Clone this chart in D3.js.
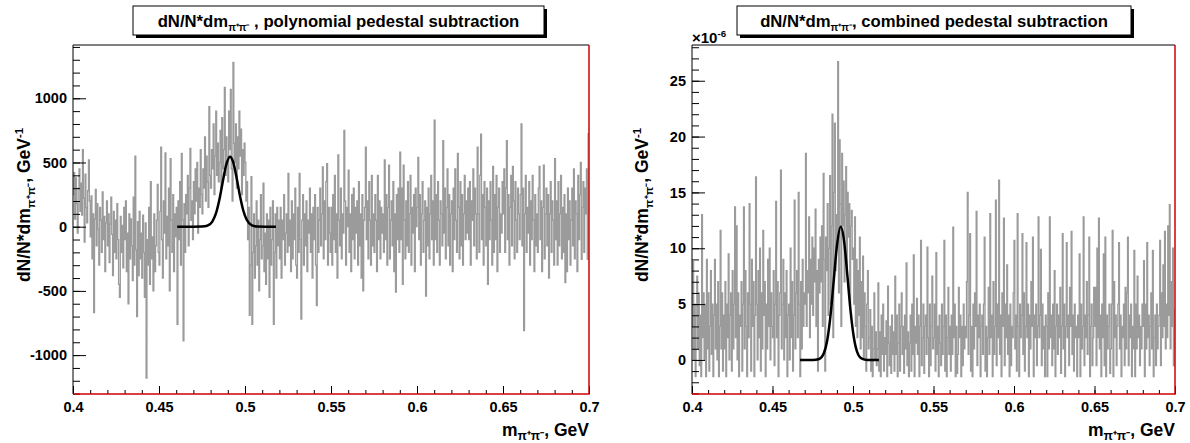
<!DOCTYPE html>
<html>
<head>
<meta charset="utf-8">
<script src="https://cdn.jsdelivr.net/npm/d3@7"></script>
<style>
  body { margin: 0; background: #fff; }
  text { font-family: "Liberation Sans", Arial, sans-serif; font-weight: bold; fill: #000; }
</style>
</head>
<body>
<svg id="chart"></svg>
<script>
// histogram binning (GeV), 600 bins from 0.4 to 0.7
const binStart = 0.4;
const binWidth = 0.0005;

// polynomial pedestal subtraction, GeV^-1 (rows of 0.005 GeV)
const polyValues = [
  250, 420, 60, 380, 180, -50, 300, 450, 120, 340,
  90, 600, 220, -120, 410, 150, 30, 280, 520, 200,
  -80, 240, -250, 100, -670, 60, 290, -150, 180, -20,
  -300, 150, 50, -200, 270, -100, 80, -350, 30, 200,
  -150, 100, -280, 20, 230, -60, -380, 120, -200, 50,
  -250, 180, -100, -450, -550, 80, -200, 10, -320, 150,
  -100, 200, -350, -50, -600, 100, -250, 60, -150, -420,
  230, -300, 550, -180, -700, 40, -380, 120, -250, -50,
  -400, 90, -200, -550, 30, -1180, -100, -300, 150, -450,
  350, -250, -80, -500, 100, -350, -150, 50, 330, -200,
  -300, 120, 620, -100, -400, 200, -50, 575, -250, 80,
  -150, 300, -500, 530, 50, -200, 250, -350, 100, -80,
  150, -760, 200, -100, 350, -300, 570, 50, -890, 180,
  -200, 250, 100, 400, -150, 300, 610, 50, 200, -100,
  350, 100, 450, 200, 500, -50, 300, 150, 600, 250,
  100, 450, 300, 700, 200, 550, 350, 150, 935, 400,
  300, 600, 450, 800, 250, 550, 900, 400, 650, 350,
  500, 750, 300, 850, 450, 600, 1085, 400, 700, 550,
  350, 900, 600, 1070, 450, 200, 1280, 650, 500, 800,
  300, 700, 450, 900, 550, 760, 250, 600, 400, 650,
  500, 200, 350, -100, 150, -690, -300, 390, -760, -200,
  100, -400, -150, 200, -300, 50, -500, -100, 250, -250,
  -150, 340, -350, -50, -450, 100, -250, 50, -550, 150,
  -300, -100, 200, -760, -200, 100, -400, 150, -150, 50,
  -250, 150, -400, 50, -100, 250, -300, -50, 100, -200,
  415, -150, 50, -350, 200, -250, 100, -100, 300, -300,
  -400, 150, -200, 415, -100, -720, 50, 250, -300, 100,
  -150, 200, -350, 50, -50, 300, -200, 100, -400, 150,
  -100, 250, -300, -615, 150, -200, 50, 300, -150, 100,
  465, -250, 200, -100, 350, 490, -300, 150, -50, -200,
  150, -300, 250, -100, 400, -200, 100, -400, 560, 50,
  -150, 300, -250, 100, -50, 750, 200, -300, 150, 0,
  440, -200, 100, -350, 250, -100, 300, -250, 150, -50,
  200, -300, 350, -150, 100, -400, 250, -500, 50, 150,
  620, -100, 200, -250, 350, 50, -300, 400, -150, 100,
  -200, 250, 50, -350, 400, -100, 200, -250, 150, -50,
  100, -200, 520, -100, 250, -300, 150, 480, -250, 50,
  200, -150, 350, -350, 100, -510, 250, -100, 300, -200,
  580, -100, 300, -450, 480, 50, -250, 200, -150, 350,
  -200, 100, 400, -300, 150, -50, 250, -350, 300, 0,
  150, 540, -100, 250, -300, 100, 350, -200, 50, 200,
  -540, 150, -150, 300, -250, 100, 400, -100, 200, -300,
  830, -100, 250, -200, 350, 50, -300, 200, 100, -150,
  670, -50, 300, -250, 150, 450, -150, 250, -300, 100,
  200, -350, 300, -100, 450, 50, -200, 570, 150, -250,
  350, -150, 250, -300, 100, 400, -100, 200, -50, 300,
  -100, 350, -300, 200, 50, 450, -150, 300, 100, -250,
  620, 100, -200, 400, 720, -100, 250, -300, 350, 150,
  -150, 300, -450, 200, -100, 350, 50, -300, 470, -200,
  250, -100, 400, -350, 150, 300, -200, 100, -50, 350,
  100, 450, -200, 300, 670, -100, 250, -300, 150, 400,
  -150, 470, 200, -250, 350, 50, -200, 300, 100, -100,
  250, 800, -150, 300, -810, 100, 400, -200, 150, -50,
  350, -300, 200, -100, 400, 50, -350, 250, -150, 100,
  -200, 300, 470, -100, 200, -350, 150, 480, -250, 100,
  300, -150, 250, -400, 100, 350, -200, 200, 50, -300,
  530, -100, 200, -300, 350, -150, 100, 400, -250, 150,
  -200, 250, -435, 100, -350, 300, -100, 200, -300, 50,
  300, -150, 450, -250, 200, 100, -350, 400, -100, 250,
  500, -255, 150, 350, -200, 300, 100, 450, -255, 725
];

// combined pedestal subtraction, units of 1e-6 GeV^-1 (rows of 0.005 GeV)
const combValues = [
  3, 8.8, 0, 5, -1.5, 4, 7.5, 1, 6, -0.5,
  4, -1.5, 13, 2, 6, 0, 5, -1.5, 9, 1,
  6, -1, 3, 8, 0.5, 5, -1.5, 4, 9, 1,
  5, 0, 7, -1.5, 3, 11.6, 1, 6, -1, 4,
  1, 7, -1.5, 5, 2, 9.5, 0, 4, 6, -1,
  8, 1, 5, 13.7, 2, 12, 0, 6, -1.5, 4,
  3, 7, -1, 5, 13.7, 1, 8, 3, -1.5, 6,
  2, 14, 5, -1, 9, 3, 7, -1.5, 4, 16.4,
  5, 0, 8, 2, 10, -1, 6, 1, 11.6, 4,
  7, -1.5, 5, 1, 9, 3, 10, 0, 6, 3,
  2, 8, -0.5, 5, 14.2, 2, 7, -1.5, 4, 6,
  17, 1, 5, 9, 0, 6, 2, 8, -1.5, 4,
  5, 0, 10, 2, 7, -1, 4, 14.3, 1, 6,
  8, 2, 15, 5, -1.5, 7, 1, 9, 3, 6,
  5, 18.5, 3, 8, 6, 12.8, 2, 9, 5, 11,
  4, 10, 7, 13.5, 3, 8, -1, 9, 6, 11,
  7, 12, 3, 16.7, 9, -1, 11, 8, 14, 4,
  10, 16.5, 5, 12, 22, 2, 15, 21.2, 8, 13,
  11, 26.7, 6, 19.7, 14, 3, 18.5, 12, 16, 7,
  13, 17.3, 8, 15, 11, 14, 5, 12, 13.4, 9,
  10, 5, 12.8, 3, 9, 2, 8, 4, 11, 1,
  7, 2, 9.3, 0, 6, 3, -1, 5, 8, 1,
  2, 4.5, -1, 3, -1.5, 1, 6, 0, 2.5, -0.5,
  1, 6.9, -1, 2.5, -1.5, 4, 0.5, 5, -1, 2,
  0.5, 3.5, -1.5, 6.6, 1.5, -0.5, 3, -1.2, 4, 0.5,
  2.5, -1, 7.5, 0.5, 4, -1.5, 1.5, 5, -1, 3,
  6, 0.5, 3, -1.2, 4, 1, 8.7, -0.5, 2.5, -1.5,
  1.5, 4, -1, 5, 0.5, 9.4, -1.5, 3, 1.5, 5.5,
  0.5, 4, -1.5, 3, 10.7, -0.5, 2, 5, -1.2, 3,
  4, 0.5, 10.1, 2, -1.5, 5, -0.5, 3, 7.5, 1,
  2, 5, -1, 9.6, 0.5, 3, -1.5, 4, 1.5, -0.5,
  5, 0.5, 3, 10.7, -1, 4, -1.5, 2, 6.5, 0.5,
  3, -1, 4, 0.5, 11.9, 2, 5, -1.5, 3, -1.2,
  0.5, 6.5, 2, 4, -1.5, 3, -0.5, 5, 1, 3,
  2, 7, 15, 0.5, 4, 11.3, -1, 3, -1.5, 5,
  1, 6, 3, 13.3, -0.5, 4, 2, 5, -1.5, 3,
  4, 0.5, 5, 11, -1, 3, -1.5, 2, 6.5, 0.5,
  13.1, 2, 4, -1.5, 7, 0.5, 3, 14.3, -0.5, 5,
  2, 16.1, 0.5, 4, -1.5, 6, 3, 12.7, -0.5, 5,
  2, 8.5, 0.5, 4, -1.5, 5, -0.5, 3, 2, 6,
  10.7, 1, 4, -1, 13.1, 3, -1.5, 5, 2, 4,
  11.3, 0.5, 6, -1, 3, 10.5, 2, 5, -1.5, 4,
  1, 7, 3, 11, -1.5, 4, 2, 5, -0.5, 3,
  12.8, 2, 4, 9.9, -0.5, 5, 1, 3, -1.5, 4,
  3, -1.5, 6, 1, 12.8, 2, 4, -0.5, 5, 1,
  8, -1.5, 3, 5, 0.5, 4, 2, 6.5, -1.2, 3,
  11.3, 1, 5, -1.5, 3, 10.5, 2, 4, -0.5, 6.5,
  3, 11.5, 0.5, 4, -1, 5, 2, 3, -1.5, 4,
  2, 9.5, -1.5, 5, 1, 3, 12.8, -0.5, 4, 2,
  7, 0.5, 4, 11, -1.5, 3, 5, -0.5, 2, 6.5,
  3, 6.5, -0.5, 10, 2, 12.7, 1, 4, -1.5, 5,
  2, 9.5, -0.5, 11, -1.5, 4, 1, 3, 5, -1.2,
  1, 5, 11.6, -1.5, 7, 2, 4, -0.5, 3, 5,
  10.5, 1, 4, -1.5, 3, 2, 5, -0.5, 6.5, 1,
  6, 11, -0.5, 4, 2, 5, -1.5, 3, 1, 9.8,
  -1.5, 5, 1, 7.5, 2, 4, -0.5, 3, 1, 5,
  3, 8.9, -1.5, 5, 1, 10.5, 2, 4, -0.5, 3,
  6, 1, 9.8, -1.5, 2, 4, -0.5, 5, 1, 3,
  4, 10.7, -0.5, 6, 2, 8.5, 3, 11.5, 1, 5,
  2, 12, 4, 13.9, 1, 7, 3, 10, -0.5, 4.5
];

// fitted peak curves
const polyFitX = [0.4606, 0.470, 0.475, 0.478, 0.481, 0.483, 0.485, 0.487, 0.489, 0.4913,
                  0.493, 0.495, 0.497, 0.499, 0.501, 0.504, 0.507, 0.512, 0.518];
const polyFitY = [0, 0, 1, 7, 40, 99, 204, 345, 478, 545,
                  508, 389, 245, 126, 54, 10, 1, 0, 0];
const combFitX = [0.4671, 0.475, 0.479, 0.482, 0.484, 0.486, 0.488, 0.490, 0.4924,
                  0.4945, 0.4965, 0.4985, 0.5005, 0.5025, 0.5055, 0.509, 0.5161];
const combFitY = [0, 0, 0.09, 0.64, 1.76, 3.94, 7.06, 10.2, 11.92,
                  10.6, 7.57, 4.36, 2.03, 0.75, 0.12, 0, 0];

// axes
const xMajor = [0.4, 0.45, 0.5, 0.55, 0.6, 0.65, 0.7];
const xMinor = d3.range(0, 31).map(i => 0.4 + i * 0.01);
const polyYMajor = [-1000, -500, 0, 500, 1000];
const polyYMinor = d3.range(-13, 15).map(i => i * 100);
const combYMajor = [0, 5, 10, 15, 20, 25];
const combYMinor = d3.range(-3, 29);

const svg = d3.select("#chart").attr("width", 1190).attr("height", 443);
svg.append("rect").attr("width", 1190).attr("height", 443).attr("fill", "#fff");

function drawPanel(p) {
  const x = d3.scaleLinear().domain([0.4, 0.7]).range([p.left, p.right]);
  const y = d3.scaleLinear().domain(p.yDomain).range([394, 45]);
  const g = svg.append("g");

  const clipId = "clip" + p.id;
  svg.append("clipPath").attr("id", clipId)
    .append("rect").attr("x", p.left).attr("y", 45)
    .attr("width", p.right - p.left).attr("height", 349);

  // histogram as steps
  const pts = p.values.map((v, i) => [binStart + i * binWidth, v]);
  pts.push([binStart + p.values.length * binWidth, p.values[p.values.length - 1]]);
  g.append("path")
    .attr("clip-path", `url(#${clipId})`)
    .attr("d", d3.line().x(d => x(d[0])).y(d => y(d[1])).curve(d3.curveStepAfter)(pts))
    .attr("fill", "none")
    .attr("stroke", "#9b9b9b")
    .attr("stroke-width", 1.3);

  // fit
  g.append("path")
    .attr("d", d3.line().x((d, i) => x(p.fitX[i])).y(d => y(d)).curve(d3.curveMonotoneX)(p.fitY))
    .attr("fill", "none")
    .attr("stroke", "#000")
    .attr("stroke-width", 2.5);

  // minor ticks
  g.append("g").attr("transform", "translate(0,394)")
    .call(d3.axisBottom(x).tickValues(p.xMinor).tickSize(-4).tickFormat(""))
    .call(a => a.select(".domain").remove());
  g.append("g").attr("transform", `translate(${p.left},0)`)
    .call(d3.axisLeft(y).tickValues(p.yMinor).tickSize(-7).tickFormat(""))
    .call(a => a.select(".domain").remove());

  // major ticks with labels
  g.append("g").attr("transform", "translate(0,394)")
    .call(d3.axisBottom(x).tickValues(xMajor).tickSize(-8).tickPadding(8).tickFormat(d => String(+d.toFixed(2))))
    .call(a => a.select(".domain").remove())
    .selectAll("text").attr("font-size", 14.5).attr("font-family", null).attr("fill", "#000");
  g.append("g").attr("transform", `translate(${p.left},0)`)
    .call(d3.axisLeft(y).tickValues(p.yMajor).tickSize(-13).tickPadding(6).tickFormat(d => String(d)))
    .call(a => a.select(".domain").remove())
    .selectAll("text").attr("font-size", 14.5).attr("font-family", null).attr("fill", "#000");
  g.selectAll(".tick line").attr("stroke", "#000");

  // frame
  g.append("path").attr("d", `M${p.left},394V45H${p.right}`)
    .attr("fill", "none").attr("stroke", "#000").attr("stroke-width", 1);
  g.append("path").attr("d", `M${p.left},394H${p.right}V45`)
    .attr("fill", "none").attr("stroke", "#d00000").attr("stroke-width", 1.5);

  // title box with shadow
  const tb = p.titleBox;
  g.append("rect").attr("x", tb[0] + 3).attr("y", tb[1] + 3).attr("width", tb[2] - tb[0]).attr("height", tb[3] - tb[1])
    .attr("fill", "#000");
  g.append("rect").attr("x", tb[0]).attr("y", tb[1]).attr("width", tb[2] - tb[0]).attr("height", tb[3] - tb[1])
    .attr("fill", "#fff").attr("stroke", "#000").attr("stroke-width", 1);
  const tt = g.append("text").attr("x", (tb[0] + tb[2]) / 2).attr("y", 27)
    .attr("text-anchor", "middle").attr("font-size", 16.7);
  tt.append("tspan").text("dN/N*dm");
  tt.append("tspan").attr("font-size", "0.6em").attr("dy", "0.35em").text("π⁺π⁻");
  tt.append("tspan").attr("dy", "-0.21em").text(p.titleRest);

  // y title
  const yt = g.append("text")
    .attr("transform", `translate(${p.yTitleX},205) rotate(-90)`)
    .attr("text-anchor", "middle").attr("font-size", 17.5);
  yt.append("tspan").text("dN/N*dm");
  yt.append("tspan").attr("font-size", "0.65em").attr("dy", "0.4em").text("π⁺π⁻");
  yt.append("tspan").attr("dy", "-0.26em").text(", GeV");
  yt.append("tspan").attr("font-size", "0.65em").attr("dy", "-0.6em").text("-1");

  // x title
  const xt = g.append("text").attr("x", p.right).attr("y", 436)
    .attr("text-anchor", "end").attr("font-size", 17.5);
  xt.append("tspan").text("m");
  xt.append("tspan").attr("font-size", "0.7em").attr("dy", "0.35em").text("π⁺π⁻");
  xt.append("tspan").attr("dy", "-0.245em").text(", GeV");

  if (p.exponent) {
    const et = g.append("text").attr("x", p.left).attr("y", 43)
      .attr("font-size", 15).attr("font-weight", "normal");
    et.append("tspan").text("×10");
    et.append("tspan").attr("font-size", "0.65em").attr("dy", "-0.6em").text("-6");
  }
}

drawPanel({
  id: "poly", left: 73, right: 589, yDomain: [-1303, 1415],
  values: polyValues, fitX: polyFitX, fitY: polyFitY,
  xMinor: xMinor, yMajor: polyYMajor, yMinor: polyYMinor,
  titleBox: [133, 6, 544, 35], titleRest: " , polynomial pedestal subtraction",
  yTitleX: 30
});
drawPanel({
  id: "comb", left: 692, right: 1175, yDomain: [-3.05, 28.2],
  values: combValues, fitX: combFitX, fitY: combFitY,
  xMinor: xMinor, yMajor: combYMajor, yMinor: combYMinor,
  titleBox: [737, 6, 1131, 35], titleRest: ", combined pedestal subtraction",
  yTitleX: 648, exponent: true
});
</script>
</body>
</html>
